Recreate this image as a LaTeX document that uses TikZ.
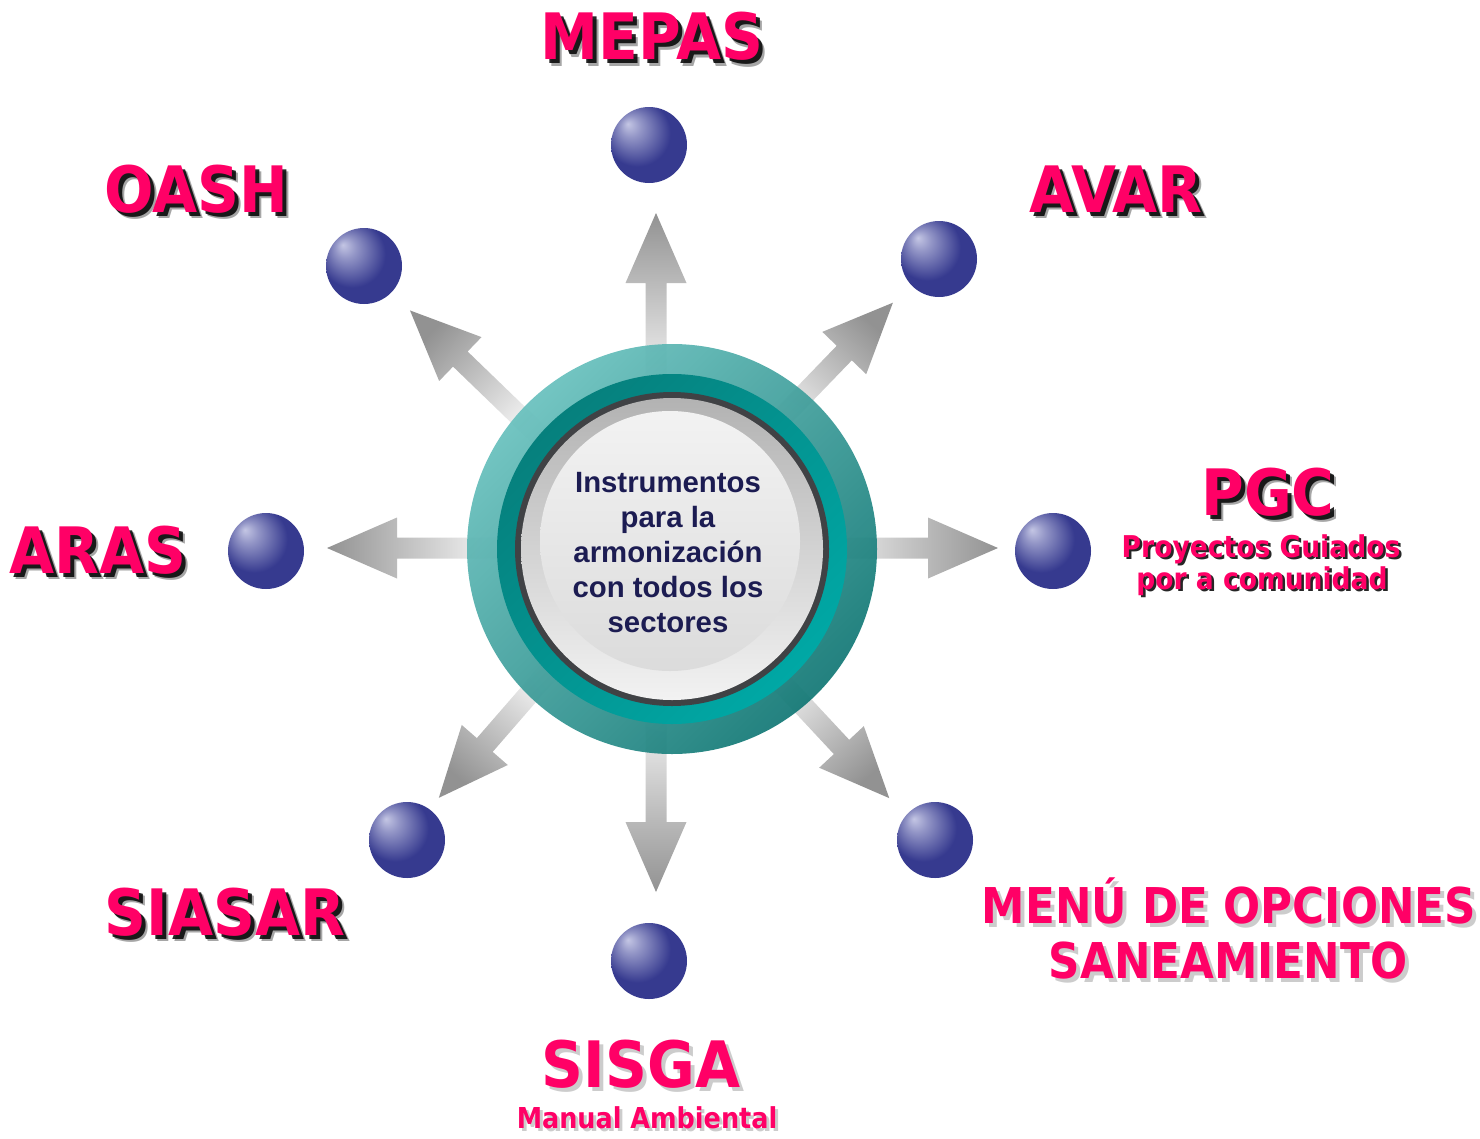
\documentclass[tikz,border=0pt]{standalone}
\usepackage{fontspec}
\setmainfont{Liberation Sans}
\newfontfamily\bigfont{DejaVu Sans Bold}[FakeStretch=0.91]
\newfontfamily\lblfont{DejaVu Sans Bold}[FakeStretch=0.885]
\usepackage{tikz}

\definecolor{pinkred}{RGB}{255,0,102}
\definecolor{ballblue}{RGB}{54,58,143}
\definecolor{ballhi}{RGB}{196,198,228}
\definecolor{navytext}{RGB}{28,28,82}
\definecolor{tealhi}{RGB}{104,192,189}
\definecolor{tealdk}{RGB}{18,120,117}
\definecolor{tealmid}{RGB}{6,128,125}
\definecolor{tealbright}{RGB}{0,168,165}
\definecolor{ringgray}{RGB}{64,66,69}
\definecolor{arrowlight}{RGB}{252,252,252}
\definecolor{arrowdark}{RGB}{146,146,146}
\pgfdeclareradialshading{ballglow}{\pgfpoint{-14bp}{14bp}}{color(0bp)=(ballhi); color(7bp)=(ballhi!65!ballblue); color(22bp)=(ballblue); color(50bp)=(ballblue)}

\begin{document}
\begin{tikzpicture}[x=0.75pt,y=0.75pt,yscale=-1,xscale=1,
  ball/.style={circle, inner sep=0pt, minimum size=57pt, shade, shading=ballglow},
  lbl/.style={text=pinkred, inner sep=0pt, anchor=base},
  dropdark/.style={text=black, text opacity=0.85, inner sep=0pt, anchor=base},
  droplight/.style={text=black, text opacity=0.2, inner sep=0pt, anchor=base},
  bigtxt/.style={font=\bigfont\fontsize{48}{48}\selectfont},
  menutxt/.style={font=\lblfont\fontsize{37}{37}\selectfont},
  subtxt/.style={font=\lblfont\fontsize{22.5}{22.5}\selectfont}]
\useasboundingbox (0,0) rectangle (1480,1138);

%Arrows out of the hub
\coordinate (hub) at (656,548);
\foreach \a/\l in {0/342,46/341,90/335,136/342,180/329,229/331,270/344,313/342}{
  \pgfmathsetmacro\sa{\a-90}
  \begin{scope}[shift={(hub)},rotate=-\a]
    \shade[top color=arrowdark, bottom color=arrowlight, shading angle=\sa] (150,-10.5) -- (\l-70,-10.5) -- (\l-70,-30.5) -- (\l,0) -- (\l-70,30.5) -- (\l-70,10.5) -- (150,10.5) -- cycle;
  \end{scope}
}

%Central disc
\coordinate (c) at (672,549);
\shade[top color=tealhi, bottom color=tealdk, shading angle=45, opacity=0.93] (c) circle (205);
\shade[top color=tealmid, bottom color=tealbright, shading angle=45] (c) circle (175);
\fill[ringgray] (c) circle (157);
\shade[top color=black!30, bottom color=black!5] (c) circle (151);
\shade[top color=black!5, bottom color=black!14] (670,541) circle (130);

% Text Node
\node[text=navytext, align=center, inner sep=0pt, font=\bfseries\fontsize{22}{26.25}\selectfont] (hubtext) at (668,553) {Instrumentos\\para la\\armonización\\con todos los\\sectores};

%Spheres
\foreach \nm/\x/\y in {mepasball/649/145, oashball/364/266, avarball/939/259, arasball/266/551, pgcball/1053/551, siasarball/407/840, menuball/935/840, sisgaball/649/961}
  \node[ball] (\nm) at (\x,\y) {};

%Big labels
\foreach \nm/\x/\y/\t in {mepas/652/60/MEPAS, oash/196/212/OASH, avar/1116/212/AVAR, aras/98/573/ARAS, pgc/1268/515/PGC, siasar/225/935/SIASAR}{
  \node[dropdark, text opacity=0.35, bigtxt] at (\x+6,\y+6) {\t};
  \node[dropdark, bigtxt] at (\x+4,\y+4) {\t};
  \node[lbl, bigtxt] (\nm) at (\x,\y) {\t};
}

%Sub labels of PGC
\foreach \nm/\x/\y/\t in {pgcsub1/1261/557/Proyectos Guiados, pgcsub2/1262/589/por a comunidad}{
  \node[dropdark, subtxt] at (\x+2.5,\y+2.5) {\t};
  \node[lbl, subtxt] (\nm) at (\x,\y) {\t};
}

%Light shadow labels
\node[droplight, menutxt] at (1233,927) {MENÚ DE OPCIONES};
\node[lbl, menutxt] (menu1) at (1229,923) {MENÚ DE OPCIONES};
\node[droplight, menutxt] at (1232,982) {SANEAMIENTO};
\node[lbl, menutxt] (menu2) at (1228,978) {SANEAMIENTO};
\node[droplight, bigtxt] at (645,1091) {SISGA};
\node[lbl, bigtxt] (sisga) at (641,1087) {SISGA};
\node[droplight, font=\lblfont\fontsize{21.6}{21.6}\selectfont] at (650,1131) {Manual Ambiental};
\node[lbl, font=\lblfont\fontsize{21.6}{21.6}\selectfont] (sisgasub) at (647,1128) {Manual Ambiental};
\end{tikzpicture}
\end{document}
